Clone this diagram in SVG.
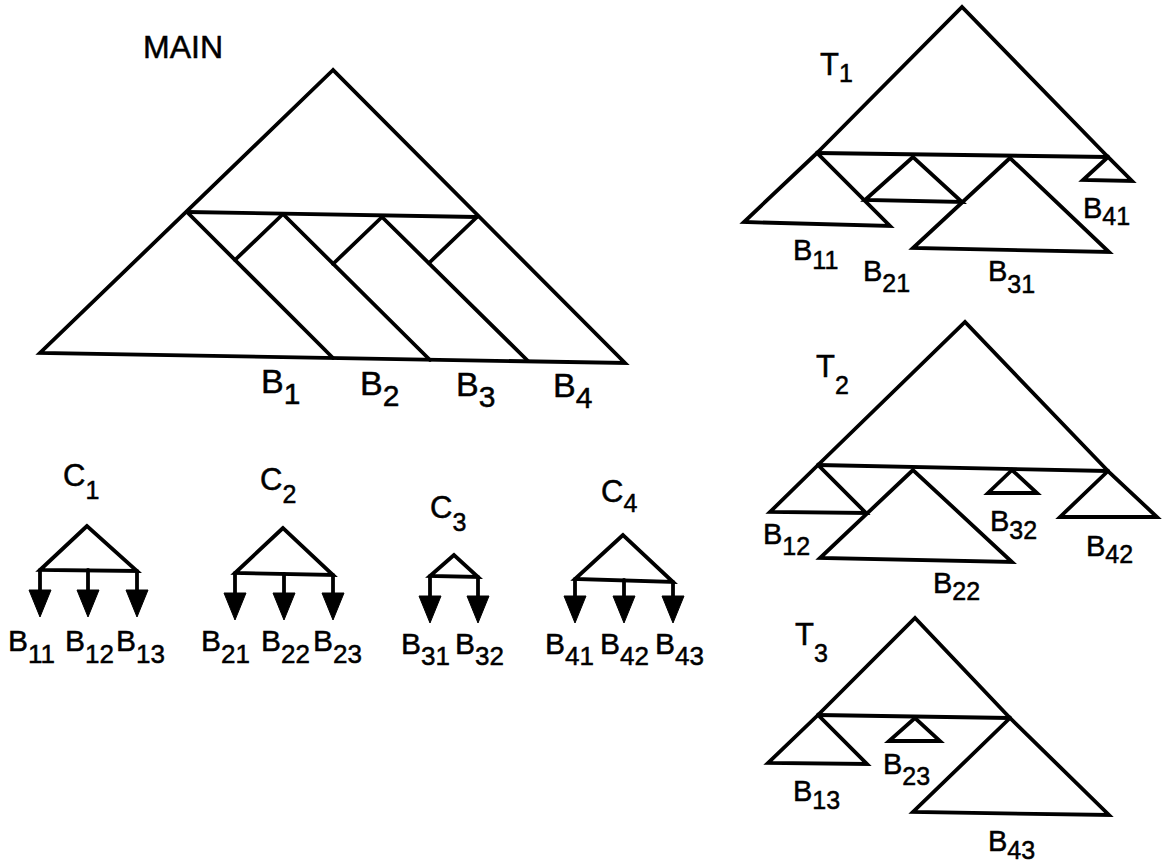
<svg xmlns="http://www.w3.org/2000/svg" width="1163" height="864" viewBox="0 0 1163 864">
<style>
  .ln { fill: none; stroke: #000; stroke-width: 3.8; stroke-linejoin: miter; stroke-linecap: round; }
  .ah { fill: #000; stroke: #000; stroke-width: 1; stroke-linejoin: miter; }
  text { font-family: "Liberation Sans", Arial, Helvetica, sans-serif; fill: #000; stroke: #000; stroke-width: 0.5; }
  .big { font-size: 34px; }
  .bsub { font-size: 30px; }
  .lbl { font-size: 29px; }
  .sub { font-size: 25px; }
  .clbl { font-size: 30px; }
  .csub { font-size: 26px; }
  .ttl { font-size: 32px; }
  .tl { font-size: 31px; }
</style>
<rect x="0" y="0" width="1163" height="864" fill="#fff"/>

<g id="main">
  <text class="ttl" x="143" y="58">MAIN</text>
  <polygon class="ln" points="333,70 40,353 625,363"/>
  <line class="ln" x1="187" y1="212" x2="477" y2="217"/>
  <line class="ln" x1="187" y1="212" x2="333" y2="358"/>
  <line class="ln" x1="283" y1="214" x2="430" y2="360"/>
  <line class="ln" x1="382" y1="217" x2="528" y2="361"/>
  <line class="ln" x1="283" y1="214" x2="235" y2="260"/>
  <line class="ln" x1="382" y1="217" x2="333" y2="264"/>
  <line class="ln" x1="477" y1="217" x2="429" y2="263"/>
  <text class="big" x="261" y="393">B<tspan class="bsub" dy="11">1</tspan></text>
  <text class="big" x="360" y="395">B<tspan class="bsub" dy="11">2</tspan></text>
  <text class="big" x="456" y="396">B<tspan class="bsub" dy="11">3</tspan></text>
  <text class="big" x="553" y="397">B<tspan class="bsub" dy="11">4</tspan></text>
</g>

<g id="t1">
  <text class="tl" x="820" y="75">T<tspan class="sub" dy="7">1</tspan></text>
  <polyline class="ln" points="817,153 962,7 1108,157"/>
  <line class="ln" x1="817" y1="153" x2="1108" y2="157"/>
  <polygon class="ln" points="817,153 744,222 890,226"/>
  <polygon class="ln" points="913,157 865,200 962,202"/>
  <polygon class="ln" points="1010,158 913,248 1109,252"/>
  <polygon class="ln" points="1108,157 1083,180 1132,181"/>
  <text class="lbl" x="793" y="260">B<tspan class="sub" dy="9">11</tspan></text>
  <text class="lbl" x="863" y="281">B<tspan class="sub" dy="11">21</tspan></text>
  <text class="lbl" x="988" y="281">B<tspan class="sub" dy="12">31</tspan></text>
  <text class="lbl" x="1083" y="218">B<tspan class="sub" dy="7">41</tspan></text>
</g>

<g id="t2">
  <text class="tl" x="816" y="377">T<tspan class="sub" dy="17">2</tspan></text>
  <polyline class="ln" points="818,465 965,322 1108,471"/>
  <line class="ln" x1="818" y1="465" x2="1108" y2="471"/>
  <polygon class="ln" points="818,465 770,512 866,513"/>
  <polygon class="ln" points="913,470 820,558 1012,562"/>
  <polygon class="ln" points="1012,470 988,493 1037,493"/>
  <polygon class="ln" points="1108,471 1060,517 1157,517"/>
  <text class="lbl" x="763" y="544">B<tspan class="sub" dy="11">12</tspan></text>
  <text class="lbl" x="990" y="531">B<tspan class="sub" dy="8">32</tspan></text>
  <text class="lbl" x="1086" y="556">B<tspan class="sub" dy="7">42</tspan></text>
  <text class="lbl" x="933" y="593">B<tspan class="sub" dy="7">22</tspan></text>
</g>

<g id="t3">
  <text class="tl" x="795" y="645">T<tspan class="sub" dy="17">3</tspan></text>
  <polyline class="ln" points="818,715 915,618 1010,718"/>
  <line class="ln" x1="818" y1="715" x2="1010" y2="718"/>
  <polygon class="ln" points="818,715 768,763 867,764"/>
  <polygon class="ln" points="915,718 889,741 940,741"/>
  <polygon class="ln" points="1010,718 913,812 1109,815"/>
  <text class="lbl" x="793" y="801">B<tspan class="sub" dy="8">13</tspan></text>
  <text class="lbl" x="883" y="774">B<tspan class="sub" dy="11">23</tspan></text>
  <text class="lbl" x="988" y="851">B<tspan class="sub" dy="8">43</tspan></text>
</g>

<g id="c1">
  <text class="tl" x="63" y="486">C<tspan class="sub" dy="13">1</tspan></text>
  <polygon class="ln" points="87,526 40,570 137,571"/>
  <text class="clbl" x="8" y="651">B<tspan class="csub" dy="12">11</tspan></text>
  <text class="clbl" x="65" y="651">B<tspan class="csub" dy="12">12</tspan></text>
  <text class="clbl" x="116" y="651">B<tspan class="csub" dy="12">13</tspan></text>
</g>

<g id="c2">
  <text class="tl" x="260" y="490">C<tspan class="sub" dy="13">2</tspan></text>
  <polygon class="ln" points="283,528 235,573 333,575"/>
  <text class="clbl" x="201" y="651">B<tspan class="csub" dy="12">21</tspan></text>
  <text class="clbl" x="261" y="651">B<tspan class="csub" dy="12">22</tspan></text>
  <text class="clbl" x="313" y="651">B<tspan class="csub" dy="12">23</tspan></text>
</g>

<g id="c3">
  <text class="tl" x="430" y="518">C<tspan class="sub" dy="13">3</tspan></text>
  <polygon class="ln" points="454,555 430,576 478,577"/>
  <text class="clbl" x="401" y="654">B<tspan class="csub" dy="11">31</tspan></text>
  <text class="clbl" x="455" y="654">B<tspan class="csub" dy="11">32</tspan></text>
</g>

<g id="c4">
  <text class="tl" x="601" y="502">C<tspan class="sub" dy="10">4</tspan></text>
  <polygon class="ln" points="623,535 575,579 673,582"/>
  <text class="clbl" x="545" y="654">B<tspan class="csub" dy="11">41</tspan></text>
  <text class="clbl" x="600" y="654">B<tspan class="csub" dy="11">42</tspan></text>
  <text class="clbl" x="655" y="654">B<tspan class="csub" dy="11">43</tspan></text>
</g>

<g id="connectors">
  <line class="ln" x1="40" y1="570" x2="40" y2="592"/>
  <line class="ln" x1="88" y1="570" x2="88" y2="592"/>
  <line class="ln" x1="137" y1="571" x2="137" y2="592"/>
  <polygon class="ah" points="29,590 51,590 40,617"/>
  <polygon class="ah" points="77,590 99,590 88,617"/>
  <polygon class="ah" points="126,590 148,590 137,617"/>

  <line class="ln" x1="235" y1="573" x2="235" y2="595"/>
  <line class="ln" x1="284" y1="574" x2="284" y2="595"/>
  <line class="ln" x1="333" y1="575" x2="333" y2="595"/>
  <polygon class="ah" points="224,593 246,593 235,620"/>
  <polygon class="ah" points="273,593 295,593 284,620"/>
  <polygon class="ah" points="322,593 344,593 333,620"/>

  <line class="ln" x1="430" y1="576" x2="430" y2="598"/>
  <line class="ln" x1="478" y1="577" x2="478" y2="598"/>
  <polygon class="ah" points="419,596 441,596 430,623"/>
  <polygon class="ah" points="467,596 489,596 478,623"/>

  <line class="ln" x1="575" y1="579" x2="575" y2="598"/>
  <line class="ln" x1="624" y1="580" x2="624" y2="598"/>
  <line class="ln" x1="673" y1="582" x2="673" y2="598"/>
  <polygon class="ah" points="564,596 586,596 575,623"/>
  <polygon class="ah" points="613,596 635,596 624,623"/>
  <polygon class="ah" points="662,596 684,596 673,623"/>
</g>
</svg>
